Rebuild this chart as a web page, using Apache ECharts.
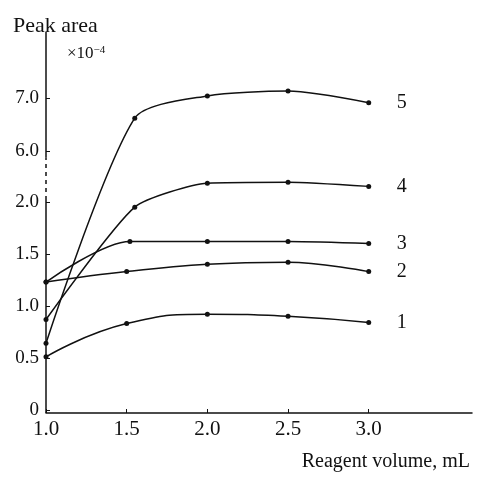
<!DOCTYPE html>
<html>
<head>
<meta charset="utf-8">
<script src="https://cdn.jsdelivr.net/npm/echarts@6/dist/echarts.min.js"></script>
<style>
  html, body { margin: 0; padding: 0; background: #fff; }
  #chart { width: 486px; height: 485px; }
</style>
</head>
<body>
<div id="chart"></div>
<script>
// values (Peak area x10^-4 vs reagent volume, mL)
let curveNames = ['1', '2', '3', '4', '5'];
let x1 = [1.0, 1.5, 2.0, 2.5, 3.0];
let y1 = [0.51, 0.83, 0.92, 0.90, 0.84];
let x2 = [1.0, 1.5, 2.0, 2.5, 3.0];
let y2 = [1.23, 1.33, 1.40, 1.42, 1.33];
let x3 = [1.0, 1.52, 2.0, 2.5, 3.0];
let y3 = [1.23, 1.62, 1.62, 1.62, 1.60];
let x4 = [1.0, 1.55, 2.0, 2.5, 3.0];
let y4 = [0.87, 1.95, 2.18, 2.19, 2.15];
let x5 = [1.0, 1.55, 2.0, 2.5, 3.0];
let y5 = [0.64, 6.62, 7.04, 7.13, 6.91];

let xTicks = [1.0, 1.5, 2.0, 2.5, 3.0];
let xTickLabels = ['1.0', '1.5', '2.0', '2.5', '3.0'];
let yTicks = [0, 0.5, 1.0, 1.5, 2.0, 6.0, 7.0];
let yTickLabels = ['0', '0.5', '1.0', '1.5', '2.0', '6.0', '7.0'];

// broken y axis: lower part 0..2 as is, upper part 6..7 compressed
function toDisplay(v) {
  if (v <= 4) return v;
  return 2.49 + (v - 6) * 0.51;
}

var ink = '#111';
var font = 'Liberation Serif';
var smooths = [0.5, 0.4, 0.3, 0.2, 0.25];
var xs = [x1, x2, x3, x4, x5];
var ys = [y1, y2, y3, y4, y5];
var yTickPos = yTicks.map(toDisplay);

var chartDom = document.getElementById('chart');
var myChart = echarts.init(chartDom);

var series = curveNames.map(function (name, i) {
  return {
    name: name,
    type: 'line',
    data: xs[i].map(function (x, j) { return [x, toDisplay(ys[i][j])]; }),
    smooth: smooths[i],
    symbol: 'circle',
    symbolSize: 5,
    itemStyle: { color: ink },
    lineStyle: { color: ink, width: 1.5 },
    endLabel: {
      show: true,
      formatter: name,
      distance: 28,
      color: ink,
      fontFamily: font,
      fontSize: 20
    },
    animation: false
  };
});

// y axis line drawn in pieces so the break can be dashed
series[0].markLine = {
  silent: true,
  symbol: ['none', 'none'],
  label: { show: false },
  animation: false,
  data: [
    [{ coord: [1.0, -0.03], lineStyle: { type: 'solid' } }, { coord: [1.0, 2.02] }],
    [{ coord: [1.0, 2.02], lineStyle: { type: [4, 4] } }, { coord: [1.0, 2.43] }],
    [{ coord: [1.0, 2.43], lineStyle: { type: 'solid' } }, { coord: [1.0, 3.635] }]
  ],
  lineStyle: { color: ink, width: 1.5 }
};

var option = {
  backgroundColor: '#fff',
  title: [
    {
      text: 'Peak area',
      left: 8,
      top: 10,
      textStyle: { color: ink, fontFamily: font, fontSize: 22, fontWeight: 'normal' }
    },
    {
      text: '{a|×10}{b|−4}',
      left: 62,
      top: 40,
      textStyle: {
        fontWeight: 'normal',
        rich: {
          a: { color: ink, fontFamily: font, fontSize: 17, fontWeight: 'normal', verticalAlign: 'bottom' },
          b: { color: ink, fontFamily: font, fontSize: 11, fontWeight: 'normal', verticalAlign: 'top' }
        }
      }
    }
  ],
  grid: {
    left: 46,
    right: 14,
    top: 32,
    bottom: 72
  },
  xAxis: {
    type: 'value',
    min: 1.0,
    max: 3.64,
    name: 'Reagent volume, mL',
    nameLocation: 'end',
    nameGap: -2,
    nameTextStyle: {
      color: ink,
      fontFamily: font,
      fontSize: 20,
      align: 'right',
      verticalAlign: 'top',
      padding: [39, 0, 0, 0]
    },
    axisLine: { onZero: false, lineStyle: { color: ink, width: 1.5 } },
    axisTick: { inside: true, length: 4, customValues: xTicks, lineStyle: { color: ink } },
    axisLabel: {
      customValues: xTicks,
      formatter: function (v) {
        var i = xTicks.indexOf(v);
        return i >= 0 ? xTickLabels[i] : '';
      },
      color: ink,
      fontFamily: font,
      fontSize: 21,
      margin: 6
    },
    splitLine: { show: false }
  },
  yAxis: {
    type: 'value',
    min: -0.03,
    max: 3.635,
    axisLine: { show: false },
    axisTick: { show: true, inside: true, length: 4, customValues: yTickPos, lineStyle: { color: ink } },
    axisLabel: {
      customValues: yTickPos,
      formatter: function (v) {
        var i = yTickPos.indexOf(v);
        return i >= 0 ? yTickLabels[i] : '';
      },
      color: ink,
      fontFamily: font,
      fontSize: 19,
      margin: 7
    },
    splitLine: { show: false }
  },
  series: series
};

myChart.setOption(option);
</script>
</body>
</html>
